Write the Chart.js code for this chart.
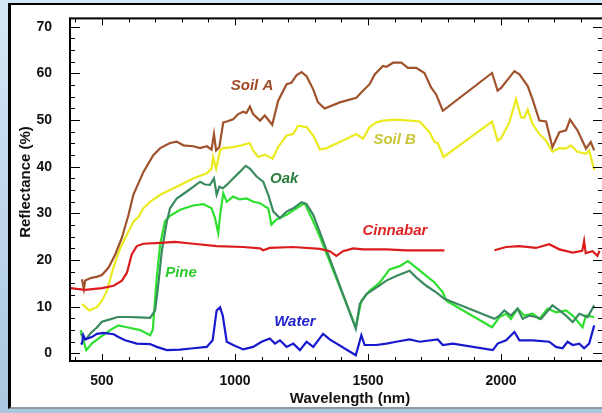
<!DOCTYPE html>
<html>
<head>
<meta charset="utf-8">
<script src="https://cdn.jsdelivr.net/npm/chart.js@4.4.0/dist/chart.umd.min.js"></script>
<style>
html, body { margin:0; padding:0; width:602px; height:413px; overflow:hidden;
  background: linear-gradient(to bottom, #d4e7f7, #aac7df); }
#frame { position:absolute; left:8px; top:3px; width:700px; height:402px; background:#fff;
  border-left:3px solid #000; border-top:2px solid #000; border-bottom:2px solid #8c9aa6; }
#wrap { position:absolute; left:0; top:0; width:610px; height:413px; }
</style>
</head>
<body>
<div id="frame"></div>
<div id="wrap"><canvas id="spectra" width="610" height="413"></canvas></div>
<script>
// tick labels
var xTicks = [500, 1000, 1500, 2000];
var yTicks = [0, 10, 20, 30, 40, 50, 60, 70];

// spectra (wavelength nm / reflectance %)
var soilAWl  = [425,432,437,460,480,500,525,550,575,600,618,656,693,719,756,781,806,843,869,894,912,921,929,941,956,969,993,1012,1031,1043,1056,1068,1094,1112,1140,1162,1194,1212,1231,1250,1269,1294,1312,1337,1394,1456,1481,1506,1525,1556,1569,1594,1625,1650,1681,1712,1737,1756,1781,1966,1987,2000,2050,2069,2100,2118,2144,2169,2193,2219,2244,2259,2287,2319,2337,2350];
var soilAVal = [15.9,13.8,15.6,16.2,16.4,16.8,18.4,21.2,24.8,29.7,34,38.9,42.5,44,45.1,45.4,44.6,44.4,44,44.4,43.7,47,43.5,44.2,49.5,49.7,50.2,51.3,51.8,51.5,52.9,51.3,49.9,51,49,54.1,57.7,58,59.6,60.3,59.4,56.6,53.8,52.5,53.8,54.8,56.3,57.7,59.8,61.6,61.4,62.3,62.3,61.2,61.2,60.1,57,55.5,52,60.1,56.3,56.9,60.5,59.8,57.3,54.5,49.9,49.7,44.2,47.4,47.8,50.1,47.8,43.9,45.3,43.5];

var soilBWl  = [425,453,481,500,519,543,569,594,619,637,656,681,719,781,843,894,912,918,929,944,956,993,1025,1056,1068,1087,1112,1141,1162,1194,1219,1237,1269,1294,1319,1344,1394,1456,1481,1506,1531,1556,1606,1656,1694,1731,1750,1762,1784,1966,1987,2000,2031,2056,2075,2087,2100,2118,2144,2169,2193,2219,2244,2262,2287,2319,2331,2350];
var soilBVal = [10.6,9.2,9.9,11.3,13.4,18.4,22.6,25.5,28.3,29.2,31.1,32.5,34,35.7,37.5,38.6,39.6,42.1,39.6,43.5,44,44.2,44.6,45.1,43.5,42.1,42.6,41.7,44.2,46.7,47,48.8,48.5,46.7,43.7,44,45.3,47,46,48.5,49.5,49.9,50.1,49.9,49.7,47.4,45.3,45.1,42.1,49.7,45.6,46.1,49.5,54.5,50.6,50.5,52.2,49.2,47,45.6,43.2,44,43.9,44.6,43.2,42.8,43.5,39.3];

var oakWl  = [420,440,460,480,500,530,560,600,640,681,700,712,725,744,756,781,819,843,869,887,906,921,931,941,954,969,993,1018,1040,1056,1081,1106,1125,1144,1169,1194,1219,1250,1269,1294,1319,1454,1469,1494,1531,1569,1606,1656,1681,1719,1756,1787,1975,1994,2012,2037,2062,2081,2106,2131,2150,2193,2219,2244,2269,2294,2325,2350];
var oakVal = [4.2,3,4.5,5.5,6.8,7.3,7.8,7.8,7.7,7.6,9.2,14.9,21.9,28.3,31.1,33.2,34.7,35.7,36.8,36.2,36.1,37.5,34,35.7,35.4,36.1,37.5,38.9,40.2,39.6,37.9,36.8,34,30.4,29,30.4,31.1,32.4,32,29.7,26,5.3,10.6,12.7,14.1,15.6,16.6,17.7,16.3,14.5,13.1,11.7,7.4,8.1,9.2,8.1,9.6,7.4,8.1,7.8,7.4,10.3,9.2,8.1,6.7,8.5,7.8,10.3];

var pineWl  = [420,441,462,494,531,562,594,644,681,691,706,719,737,756,794,843,881,912,925,937,945,956,969,993,1018,1044,1069,1094,1112,1125,1137,1156,1194,1231,1262,1294,1319,1454,1475,1506,1544,1581,1619,1650,1681,1719,1750,1781,1794,1966,1994,2019,2037,2062,2087,2119,2144,2175,2206,2244,2269,2306,2319,2350];
var pineVal = [5,0.7,2.1,3.5,5,6,5.6,5,3.9,5,16.3,23.4,28.3,29.5,30.8,31.7,32,31.1,29,25.8,30,34.3,32.5,33.6,33,33.2,32.5,32.2,31.5,31.1,27.6,28.7,29.7,31.1,32.2,28.3,25,5.6,11.3,13.4,15.2,18,18.7,19.8,18.4,16.6,15.2,13.1,11.3,5.6,7.8,8.5,7.4,9.6,8.1,8.5,7.4,9.6,8.8,9.2,8.1,5.6,8.1,7.8];

// cinnabar has a break between 1787 and 1975 nm
var cinnabarWl  = [381,437,500,544,575,594,612,631,656,719,775,843,931,1031,1094,1106,1131,1219,1319,1356,1381,1406,1444,1481,1569,1644,1719,1787,1880,1975,2019,2069,2131,2181,2219,2269,2305,2312,2318,2344,2362,2370];
var cinnabarVal = [14,13.6,14,14.5,15.6,17.3,21.2,23,23.5,23.7,23.9,23.5,23,22.8,22.5,22.1,22.6,22.8,22.4,21.9,20.9,21.9,22.5,22.3,22.3,22.1,22.1,22.1,null,22.1,22.8,23,22.6,23.4,22.3,21.6,22,24.1,21.5,21.9,20.9,22];

var waterWl  = [420,425,430,437,462,481,506,544,562,587,631,681,706,744,794,843,894,916,931,944,954,969,993,1031,1068,1100,1131,1150,1169,1194,1219,1244,1269,1294,1331,1356,1454,1475,1487,1531,1569,1606,1656,1694,1762,1781,1819,1969,1987,2019,2050,2069,2119,2181,2206,2231,2250,2269,2294,2312,2331,2350];
var waterVal = [2,2.1,3.9,3,3.5,4.2,4.4,4.1,3.5,2.8,2.1,2,1.4,0.7,0.8,1.1,1.4,2.8,9.2,9.9,8.1,2.5,1.8,0.85,1.4,2.5,3.2,2.1,2.8,1.4,2.1,0.7,2.5,1.4,4.2,3,-0.4,3.9,1.8,1.8,2.1,2.5,3,2.5,3,1.8,2.1,0.7,2.1,2.8,4.6,2.8,2.8,2.5,1.4,1.1,2.5,1.8,2.1,1.1,2.1,6];

function pairs(wl, val) {
  return wl.map(function (w, i) { return { x: w, y: val[i] }; });
}

// in-plot series names (data coordinates of the text centre)
var seriesLabels = [
  { text: "Soil A",   x: 1064, y: 57.4, color: "#9c4a26" },
  { text: "Soil B",   x: 1600, y: 45.7, color: "#c9c63a" },
  { text: "Oak",      x: 1185, y: 37.4, color: "#2a7d3e" },
  { text: "Cinnabar", x: 1601, y: 26.2, color: "#de2424" },
  { text: "Pine",     x: 797,  y: 17.3, color: "#2ecb2e" },
  { text: "Water",    x: 1225, y: 6.75, color: "#2323cc" }
];

var FONT = '"Liberation Sans", Arial, sans-serif';

var frameTicks = {
  id: "frameTicks",
  afterDatasetsDraw: function (chart) {
    var ctx = chart.ctx, a = chart.chartArea;
    var sx = chart.scales.x, sy = chart.scales.y;
    ctx.save();
    ctx.strokeStyle = "#000";
    ctx.lineWidth = 1;
    ctx.beginPath();
    for (var w = 400; w <= 2300; w += 100) {
      var px = Math.round(sx.getPixelForValue(w)) + 0.5;
      var len = (w % 500 === 0) ? 7 : 4;
      ctx.moveTo(px, a.bottom); ctx.lineTo(px, a.bottom - len);
      ctx.moveTo(px, a.top); ctx.lineTo(px, a.top + len);
    }
    for (var r = 0; r <= 70; r += 2.5) {
      var py = Math.round(sy.getPixelForValue(r)) + 0.5;
      var l2 = (r % 10 === 0) ? 10 : 5;
      ctx.moveTo(a.left, py); ctx.lineTo(a.left + l2, py);
      ctx.moveTo(a.right, py); ctx.lineTo(a.right - l2, py);
    }
    ctx.stroke();
    ctx.lineWidth = 2;
    ctx.strokeRect(a.left, a.top, a.right - a.left, a.bottom - a.top);

    ctx.textAlign = "center";
    ctx.textBaseline = "middle";
    ctx.font = "italic bold 15px " + FONT;
    seriesLabels.forEach(function (s) {
      ctx.fillStyle = s.color;
      ctx.fillText(s.text, sx.getPixelForValue(s.x), sy.getPixelForValue(s.y));
    });

    ctx.fillStyle = "#111";
    ctx.font = "bold 15px " + FONT;
    ctx.fillText("Wavelength (nm)", 350, 399);
    ctx.translate(26, 182);
    ctx.rotate(-Math.PI / 2);
    ctx.fillText("Reflectance (%)", 0, 0);
    ctx.restore();
  }
};

function series(label, wl, val, color) {
  return {
    label: label,
    data: pairs(wl, val),
    borderColor: color,
    borderWidth: 2.2,
    pointRadius: 0,
    tension: 0,
    fill: false,
    spanGaps: false
  };
}

new Chart(document.getElementById("spectra"), {
  type: "line",
  data: {
    datasets: [
      series("Cinnabar", cinnabarWl, cinnabarVal, "#dc1c1c"),
      series("Soil A", soilAWl, soilAVal, "#a0522d"),
      series("Soil B", soilBWl, soilBVal, "#eaea1e"),
      series("Water", waterWl, waterVal, "#1818cc"),
      series("Oak", oakWl, oakVal, "#3a8a60"),
      series("Pine", pineWl, pineVal, "#2ee02e")
    ]
  },
  options: {
    responsive: false,
    devicePixelRatio: 1,
    animation: false,
    layout: { padding: { top: 15, right: 7, left: 0, bottom: 0 } },
    plugins: { legend: { display: false }, tooltip: { enabled: false } },
    scales: {
      x: {
        type: "linear",
        min: 380,
        max: 2383,
        grid: { display: false },
        border: { display: false },
        afterBuildTicks: function (s) { s.ticks = xTicks.map(function (v) { return { value: v }; }); },
        afterFit: function (s) { s.height = 52; },
        ticks: {
          color: "#111", padding: 4, maxRotation: 0,
          font: { family: FONT, size: 14, weight: "bold" },
          callback: function (v) { return String(v); }
        }
      },
      y: {
        min: -1.63,
        max: 71.8,
        grid: { display: false },
        border: { display: false },
        afterBuildTicks: function (s) { s.ticks = yTicks.map(function (v) { return { value: v }; }); },
        afterFit: function (s) { s.width = 70; },
        ticks: { color: "#111", padding: 10, font: { family: FONT, size: 14, weight: "bold" } }
      }
    }
  },
  plugins: [frameTicks]
});
</script>
</body>
</html>
